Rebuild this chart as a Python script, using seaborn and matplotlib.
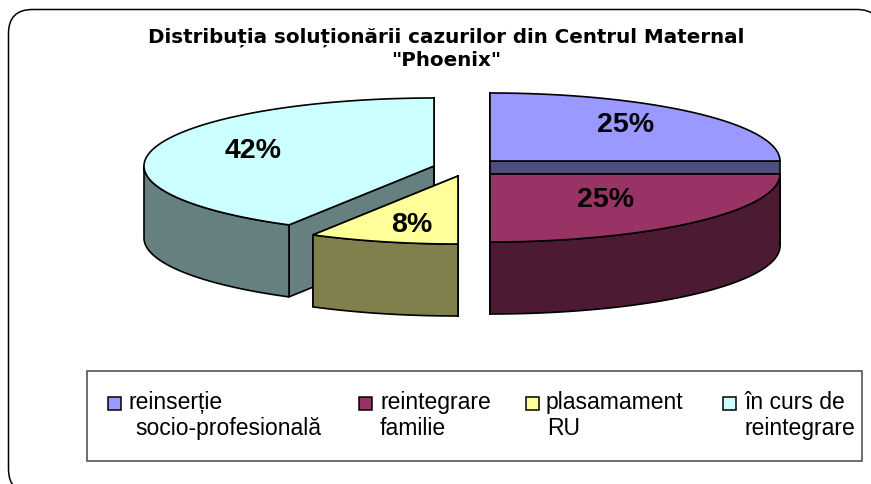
import numpy as np
import matplotlib
matplotlib.use("Agg")
import matplotlib.pyplot as plt
from matplotlib.patches import FancyBboxPatch, Rectangle
import seaborn as sns

# ---- data ----
categories = ["reinserție socio-profesională", "reintegrare familie", "plasamament RU", "în curs de reintegrare"]
counts = [3, 3, 1, 5]

# ---- style / layout (figure pixels) ----
top_colors = ["#9999FF", "#993366", "#FFFF99", "#CCFFFF"]
side_colors = ["#4D4D80", "#4D1A33", "#80804D", "#668080"]
slice_centers = [(490, 161), (490, 174), (458, 176), (434, 166)]
label_xy = [(626, 125), (606, 200), (412, 225), (253, 151)]
draw_order = [0, 3, 1, 2]
RX, RY, DEPTH = 290, 68, 72
LW = 1.2

sns.set_theme(style="white")
plt.rcParams["font.family"] = ["Liberation Sans", "DejaVu Sans"]

W, H = 871, 484
fig = plt.figure(figsize=(W / 100, H / 100), dpi=100)
ax = fig.add_axes([0, 0, 1, 1])
ax.set_xlim(0, W)
ax.set_ylim(H, 0)
ax.axis("off")

# chart area frame, running past the right and bottom edges
ax.add_patch(FancyBboxPatch((8.5 + 24, 9.5 + 24), 881 - 8.5 - 48, 493 - 9.5 - 48,
                            boxstyle="round,pad=24,rounding_size=24",
                            fc="white", ec="black", lw=1.1, clip_on=True))

fractions = np.asarray(counts, float) / np.sum(counts)
edges = np.concatenate([[0], np.cumsum(fractions)]) * 2 * np.pi  # clockwise from 12 o'clock


def pt(c, a, dz=0.0):
    return c[0] + RX * np.sin(a), c[1] - RY * np.cos(a) + dz


for i in draw_order:
    c = slice_centers[i]
    a0, a1 = edges[i], edges[i + 1]
    # radial cut faces
    for a in (a0, a1):
        x, y = pt(c, a)
        ax.fill([c[0], x, x, c[0]], [c[1], y, y + DEPTH, c[1] + DEPTH],
                fc=side_colors[i], ec="black", lw=LW, joinstyle="round")
    # outer rim: only the front half of the ellipse is visible
    lo, hi = max(a0, np.pi / 2), min(a1, 3 * np.pi / 2)
    if hi > lo:
        t = np.linspace(lo, hi, 120)
        xs, ys = pt(c, t)
        ax.fill(np.r_[xs, xs[::-1]], np.r_[ys, ys[::-1] + DEPTH],
                fc=side_colors[i], ec="black", lw=LW, joinstyle="round")
    # top face
    t = np.linspace(a0, a1, 200)
    xs, ys = pt(c, t)
    ax.fill(np.r_[c[0], xs], np.r_[c[1], ys], fc=top_colors[i], ec="black", lw=LW, joinstyle="round")

for i, (x, y) in enumerate(label_xy):
    ax.text(x, y, f"{fractions[i] * 100:.0f}%", ha="center", va="center",
            fontsize=20.5, fontweight="bold", color="black")

# title
title_font = ["DejaVu Sans", "Liberation Sans"]
ax.text(446.5, 43, "Distribuția soluționării cazurilor din Centrul Maternal", ha="center", va="baseline",
        fontsize=14.3, fontweight="bold", color="black", family=title_font)
ax.text(446.5, 66, '"Phoenix"', ha="center", va="baseline", fontsize=14.3, fontweight="bold",
        color="black", family=title_font)

# legend
ax.add_patch(Rectangle((87, 371), 862 - 87, 461 - 371, fc="white", ec="#555555", lw=1.2))
legend_lines = [
    (108, 128, 135, "reinserție", "socio-profesională"),
    (359, 380, 380, "reintegrare", "familie"),
    (526, 546, 547, "plasamament", "RU"),
    (723, 744, 744, "în curs de", "reintegrare"),
]
for i, (mx, tx1, tx2, l1, l2) in enumerate(legend_lines):
    ax.add_patch(Rectangle((mx, 397), 13, 12.5, fc=top_colors[i], ec="black", lw=1.1))
    ax.text(tx1, 409, l1, ha="left", va="baseline", fontsize=16.5, color="black")
    ax.text(tx2, 435, l2, ha="left", va="baseline", fontsize=16.5, color="black")

fig.savefig("out.png", dpi=100)
